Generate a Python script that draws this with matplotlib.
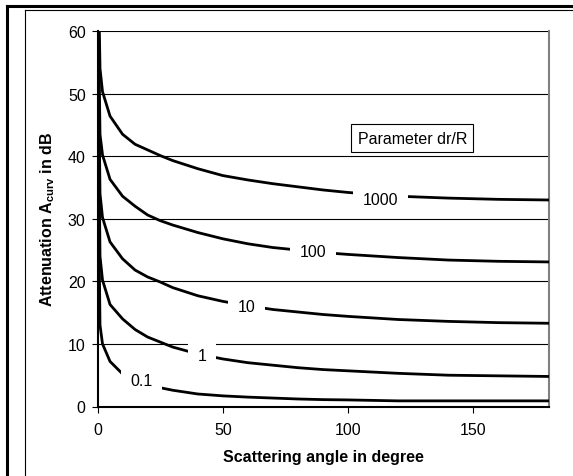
import numpy as np
import matplotlib
matplotlib.use("Agg")
import matplotlib.pyplot as plt
from matplotlib.lines import Line2D

plt.rcParams['font.family'] = ['Liberation Sans', 'DejaVu Sans']
plt.rcParams['mathtext.fontset'] = 'custom'
plt.rcParams['mathtext.rm'] = 'Liberation Sans'
plt.rcParams['mathtext.bf'] = 'Liberation Sans:bold'

# scattering angle (degree)
theta = [0.1, 1, 2, 5, 10, 15, 20, 25, 30, 40, 50, 60, 70, 80, 90, 100, 120, 140, 160, 180]

# attenuation in dB for each parameter dr/R
a_1000 = [75, 54.0, 50.3, 46.4, 43.5, 41.9, 41.0, 40.1, 39.3, 38.0, 36.9, 36.2, 35.6, 35.1, 34.6, 34.2, 33.6, 33.3, 33.1, 33.0]
a_100 = [70, 43.5, 40.2, 36.3, 33.6, 32.0, 30.6, 29.7, 29.0, 27.8, 26.8, 26.0, 25.4, 25.0, 24.6, 24.3, 23.8, 23.4, 23.2, 23.1]
a_10 = [65, 34.0, 30.2, 26.3, 23.6, 21.8, 20.7, 19.9, 19.0, 17.7, 16.8, 16.1, 15.5, 15.1, 14.7, 14.4, 13.9, 13.6, 13.4, 13.3]
a_1 = [60, 24.0, 20.2, 16.3, 14.0, 12.3, 11.1, 10.3, 9.5, 8.4, 7.6, 7.0, 6.6, 6.2, 5.9, 5.7, 5.3, 5.0, 4.9, 4.8]
a_01 = [45, 13.0, 10.0, 7.2, 5.2, 4.3, 3.6, 3.0, 2.6, 2.0, 1.7, 1.5, 1.35, 1.2, 1.1, 1.05, 0.9, 0.9, 0.9, 0.9]

curves = [a_1000, a_100, a_10, a_1, a_01]
labels = ["1000", "100", "10", "1", "0.1"]
# label positions (angle, dB)
label_x = [113, 86, 59.6, 41.6, 17.6]
label_y = [33.0, 24.7, 15.9, 8.2, 4.1]

FS = 11.5
W, H = 573, 477
fig = plt.figure(figsize=(W / 100, H / 100), dpi=100)
ax = fig.add_axes([97.5 / W, 1 - 407.5 / H, 451 / W, 375.5 / H])

for vals in curves:
    ax.plot(theta, vals, color='black', lw=2.0, zorder=3, clip_on=True)

for lab, lx, ly in zip(labels, label_x, label_y):
    ax.text(lx, ly, lab, ha='center', va='center', fontsize=FS, zorder=4,
            bbox=dict(boxstyle='square,pad=0.6', fc='white', ec='none'))

ax.text(125.6, 42.9, "Parameter dr/R", ha='center', va='center', fontsize=FS, zorder=4,
        bbox=dict(boxstyle='square,pad=0.4', fc='white', ec='black', lw=0.8))

ax.set_xlim(0, 180)
ax.set_ylim(0, 60)
ax.set_xticks([0, 50, 100, 150])
ax.set_yticks([0, 10, 20, 30, 40, 50, 60])
ax.yaxis.grid(True, color='black', lw=0.8, zorder=1)
ax.set_axisbelow(True)

ax.spines['top'].set_visible(False)
ax.spines['right'].set_color('#808080')
ax.spines['right'].set_linewidth(1.5)
ax.spines['left'].set_linewidth(1.5)
ax.spines['bottom'].set_linewidth(1.5)
ax.tick_params(axis='both', direction='out', length=4.5, width=0.8, labelsize=FS)
ax.tick_params(axis='x', pad=7)
ax.tick_params(axis='y', pad=4)

ax.set_xlabel("Scattering angle in degree", fontsize=FS, fontweight='bold', labelpad=8)
ax.set_ylabel(r"Attenuation A$_\mathbf{curv}$ in dB", fontsize=FS, fontweight='bold', labelpad=8)

# document frame
def px_line(x0, y0, x1, y1, lw, color):
    fig.add_artist(Line2D([x0 / W, x1 / W], [1 - y0 / H, 1 - y1 / H], lw=lw, color=color,
                          transform=fig.transFigure))

px_line(7, 7, W, 7, 2.2, 'black')
px_line(7, 7, 7, H, 2.2, 'black')
px_line(25, 10.5, W, 10.5, 0.8, 'black')
px_line(25, 10.5, 25, H, 0.8, 'black')

fig.savefig("out.png", dpi=100)
